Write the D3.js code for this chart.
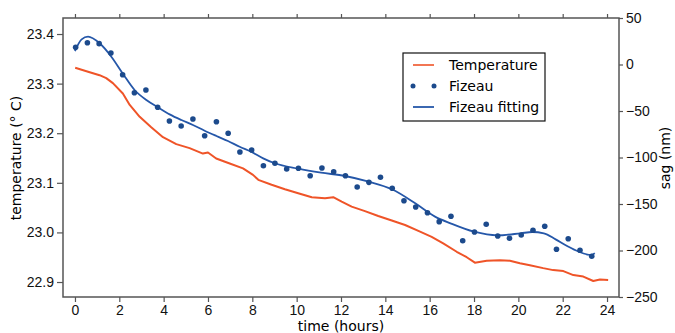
<!DOCTYPE html>
<html>
<head>
<meta charset="utf-8">
<script src="https://cdn.jsdelivr.net/npm/d3@7/dist/d3.min.js"></script>
<style>
  body { margin: 0; background: #fff; }
  svg { font-family: "DejaVu Sans", sans-serif; }
  .tick text { font-size: 14px; fill: #111; }
  .tick line { stroke: #555; stroke-width: 1.2; }
  .domain { display: none; }
</style>
</head>
<body>
<svg width="675" height="333"></svg>
<script>
// temperature log (hours, deg C)
var tempHours = [0.01, 0.59, 1.11, 1.41, 1.71, 2.16, 2.47, 2.92, 3.44, 3.97, 4.57, 5.17, 5.77, 6.0, 6.37,
  6.98, 7.58, 8.03, 8.27, 8.87, 9.47, 10.07, 10.68, 11.28, 11.65, 12.03, 12.48, 13.08, 13.68, 14.29,
  14.89, 15.49, 16.09, 16.61, 17.22, 17.67, 18.04, 18.57, 19.17, 19.62, 20.07, 20.52, 21.12, 21.57,
  22.03, 22.48, 22.93, 23.38, 23.68, 24.05];
var tempValues = [23.332, 23.324, 23.317, 23.311, 23.301, 23.280, 23.257, 23.233, 23.212, 23.192, 23.178,
  23.170, 23.159, 23.161, 23.149, 23.139, 23.129, 23.116, 23.106, 23.096, 23.087, 23.079, 23.071, 23.069,
  23.071, 23.062, 23.052, 23.043, 23.033, 23.024, 23.015, 23.003, 22.991, 22.978, 22.961, 22.950, 22.939,
  22.943, 22.944, 22.943, 22.938, 22.934, 22.928, 22.924, 22.922, 22.914, 22.911, 22.902, 22.905, 22.904];

// Fizeau sag measurements (hours, nm)
var fizeauHours = [0.03, 0.56, 1.09, 1.62, 2.15, 2.68, 3.20, 3.73, 4.26, 4.79, 5.32, 5.85, 6.38, 6.91, 7.44,
  7.97, 8.50, 9.02, 9.55, 10.08, 10.61, 11.14, 11.67, 12.20, 12.73, 13.26, 13.78, 14.31, 14.84, 15.37,
  15.90, 16.43, 16.96, 17.49, 18.02, 18.55, 19.07, 19.60, 20.13, 20.66, 21.19, 21.72, 22.25, 22.78, 23.31];
var fizeauSag = [18.5, 23.4, 22.4, 12.4, -11.0, -30.3, -27.4, -46.0, -60.8, -66.1, -58.6, -76.6, -61.5, -74.0,
  -94.1, -91.9, -108.8, -106.2, -112.4, -111.6, -119.6, -111.3, -115.3, -119.6, -131.7, -126.7, -121.3,
  -133.1, -146.5, -153.2, -159.4, -169.0, -163.2, -189.5, -180.1, -171.8, -184.4, -186.9, -183.3, -178.3,
  -174.0, -198.7, -187.3, -199.8, -206.2];

// fitted curve (hours, nm)
var fitHours = [0.0, 0.3, 0.59, 1.11, 1.64, 2.17, 2.69, 3.22, 3.74, 4.27, 4.8, 5.32, 5.85, 6.38, 6.9, 7.43,
  7.95, 8.49, 9.01, 10.07, 11.1, 12.18, 13.25, 14.3, 15.35, 16.24, 16.94, 18.0, 19.05, 20.1, 20.63,
  21.15, 21.68, 22.2, 22.73, 23.27, 23.45];
var fitSag = [14.5, 27.0, 29.9, 22.8, 8.4, -10.2, -27.4, -38.2, -46.0, -53.6, -59.7, -65.0, -71.2, -76.9,
  -82.3, -88.4, -93.8, -100.9, -106.2, -112.0, -116.3, -119.9, -126.0, -134.2, -149.3, -163.6, -170.8,
  -179.8, -183.7, -181.5, -180.1, -181.5, -188.0, -195.2, -201.3, -204.8, -203.0];

var hourTicks = [0, 2, 4, 6, 8, 10, 12, 14, 16, 18, 20, 22, 24];
var tempTicks = [22.9, 23.0, 23.1, 23.2, 23.3, 23.4];
var sagTicks = [-250, -200, -150, -100, -50, 0, 50];

var svg = d3.select("svg");
var plotL = 63, plotR = 619, plotT = 18, plotB = 297;

var x = d3.scaleLinear().domain([-0.54, 24.54]).range([plotL, plotR]);
var yT = d3.scaleLinear().domain([22.8698, 23.4323]).range([plotB, plotT]);
var yS = d3.scaleLinear().domain([-250, 50]).range([plotB, plotT]);

var tempColor = "#ef5428", dotColor = "#1c4a8c", fitColor = "#2557a9";

// axes
svg.append("g")
    .attr("transform", "translate(0," + plotB + ")")
    .call(d3.axisBottom(x).tickValues(hourTicks).tickSize(5).tickPadding(3).tickFormat(d3.format("d")));

svg.append("g")
    .attr("transform", "translate(0," + plotT + ")")
    .call(d3.axisTop(x).tickValues(hourTicks).tickSize(4).tickFormat(""));

svg.append("g")
    .attr("transform", "translate(" + plotL + ",0)")
    .call(d3.axisLeft(yT).tickValues(tempTicks).tickSize(6).tickPadding(3).tickFormat(d3.format(".1f")));

svg.append("g")
    .attr("transform", "translate(" + plotR + ",0)")
    .call(d3.axisRight(yS).tickValues(sagTicks).tickSize(4).tickPadding(3)
      .tickFormat(function(d) { return d < 0 ? "\u2212" + Math.abs(d) : d; }));

// frame
svg.append("rect")
    .attr("x", plotL).attr("y", plotT)
    .attr("width", plotR - plotL).attr("height", plotB - plotT)
    .attr("fill", "none").attr("stroke", "#555").attr("stroke-width", 1.5);

// temperature
svg.append("path")
    .datum(tempHours.map(function(h, i) { return [h, tempValues[i]]; }))
    .attr("fill", "none")
    .attr("stroke", tempColor)
    .attr("stroke-width", 2)
    .attr("stroke-linejoin", "round")
    .attr("d", d3.line()
      .x(function(d) { return x(d[0]); })
      .y(function(d) { return yT(d[1]); }));

// fitting
svg.append("path")
    .datum(fitHours.map(function(h, i) { return [h, fitSag[i]]; }))
    .attr("fill", "none")
    .attr("stroke", fitColor)
    .attr("stroke-width", 1.8)
    .attr("d", d3.line()
      .curve(d3.curveMonotoneX)
      .x(function(d) { return x(d[0]); })
      .y(function(d) { return yS(d[1]); }));

// measurements
svg.append("g")
  .selectAll("circle")
  .data(fizeauHours.map(function(h, i) { return [h, fizeauSag[i]]; }))
  .enter().append("circle")
    .attr("cx", function(d) { return x(d[0]); })
    .attr("cy", function(d) { return yS(d[1]); })
    .attr("r", 2.8)
    .attr("fill", dotColor);

// axis labels
svg.append("text")
    .attr("transform", "translate(21,158) rotate(-90)")
    .attr("text-anchor", "middle")
    .style("font-size", "14px")
    .text("temperature (\u00b0 C)");

svg.append("text")
    .attr("transform", "translate(670,158) rotate(-90)")
    .attr("text-anchor", "middle")
    .style("font-size", "14px")
    .text("sag (nm)");

svg.append("text")
    .attr("x", x(12)).attr("y", 331)
    .attr("text-anchor", "middle")
    .style("font-size", "14px")
    .text("time (hours)");

// legend
var legend = svg.append("g");
legend.append("rect")
    .attr("x", 403).attr("y", 53).attr("width", 142).attr("height", 68)
    .attr("fill", "#fff").attr("stroke", "#111").attr("stroke-width", 1.2);
legend.append("line")
    .attr("x1", 413).attr("x2", 434).attr("y1", 65).attr("y2", 65)
    .attr("stroke", tempColor).attr("stroke-width", 1.6);
legend.selectAll("circle.lg")
    .data([413, 434])
  .enter().append("circle")
    .attr("cx", function(d) { return d; }).attr("cy", 86).attr("r", 2.5)
    .attr("fill", dotColor);
legend.append("line")
    .attr("x1", 413).attr("x2", 434).attr("y1", 107).attr("y2", 107)
    .attr("stroke", fitColor).attr("stroke-width", 1.8);
legend.selectAll("text")
    .data([["Temperature", 65], ["Fizeau", 86], ["Fizeau fitting", 107]])
  .enter().append("text")
    .attr("x", 449).attr("y", function(d) { return d[1] + 5; })
    .style("font-size", "14px")
    .text(function(d) { return d[0]; });
</script>
</body>
</html>
